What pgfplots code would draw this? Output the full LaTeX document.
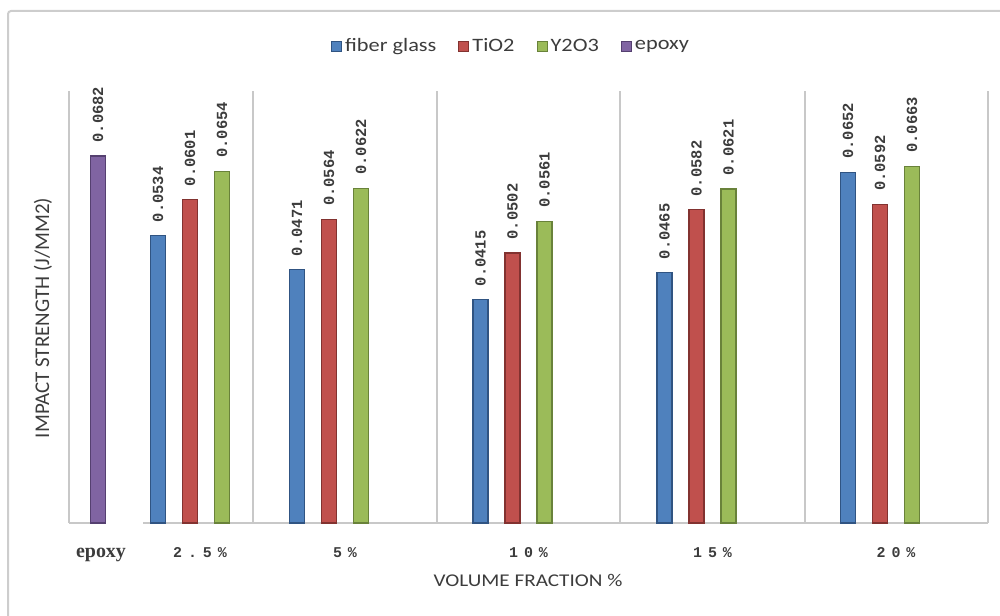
\documentclass[border=0pt]{standalone}
\usepackage{fontspec}
\usepackage{pgfplots}
\pgfplotsset{compat=1.18}

% fonts
\newfontfamily\calib{Carlito}[FakeStretch=1.18]
\newfontfamily\calibr{Carlito}
\newfontfamily\monof{Liberation Mono}
\newfontfamily\tickf{Liberation Mono}[LetterSpace=40]
\newfontfamily\serf{Liberation Serif}

% series colours (fill / edge)
\definecolor{blueF}{RGB}{79,129,189}
\definecolor{blueD}{RGB}{48,84,130}
\definecolor{redF}{RGB}{192,80,77}
\definecolor{redD}{RGB}{130,50,48}
\definecolor{greenF}{RGB}{155,187,89}
\definecolor{greenD}{RGB}{105,130,58}
\definecolor{purpF}{RGB}{128,100,162}
\definecolor{purpD}{RGB}{85,64,112}
\definecolor{sepgray}{RGB}{200,200,200}
\definecolor{framegray}{RGB}{205,205,205}
\definecolor{txtgray}{RGB}{60,60,60}

\begin{document}
\begin{tikzpicture}[x=1bp,y=1bp]
\path[use as bounding box] (0,0) rectangle (1000,616);
% chart frame
\draw[color=framegray, line width=2bp, rounded corners=3bp] (8,0) -- (8,605) -- (1000,605);
\begin{axis}[
  at={(69bp,93bp)}, anchor=south west,
  scale only axis, width=919bp, height=432bp,
  xmin=69, xmax=988, ymin=0, ymax=0.0803,
  clip=false,
  axis line style={draw=none},
  ytick=\empty,
  major tick length=0pt,
  xtick={101,200,345,528.5,712.5,896},
  xticklabels={{\serf\bfseries\fontsize{20}{24}\selectfont epoxy},2.5\%,5\%,10\%,15\%,20\%},
  xticklabel style={font=\tickf\bfseries\fontsize{15}{18}\selectfont, text=txtgray, anchor=base, inner sep=0pt, yshift=-35bp},
  extra x ticks={69,253,437,620,805,988},
  extra x tick labels={},
  extra x tick style={grid=major, major grid style={draw=sepgray, line width=1.3bp}},
  ylabel={IMPACT STRENGTH (J/MM2)},
  ylabel style={at={(axis description cs:-0.0283,0.4745)}, anchor=center, rotate=0, font=\calibr\fontsize{21}{24}\selectfont, text=txtgray},
  xlabel={VOLUME FRACTION \%},
  xlabel style={at={(axis description cs:0.4995,-0.134)}, anchor=center, font=\calib\fontsize{18}{22}\selectfont, text=txtgray},
  legend columns=4,
  legend style={at={(axis description cs:0.4815,1.104)}, anchor=center, draw=none, fill=none,
    font=\calib\fontsize{19}{22}\selectfont, text=txtgray,
    /tikz/every even column/.append style={column sep=19bp},
    nodes={inner xsep=3bp}},
  legend image code/.code={\draw[#1, line width=1bp] (0bp,-5bp) rectangle (10bp,5bp);},
  nodes near coords={\pgfmathprintnumber[fixed,fixed zerofill,precision=4,assume math mode=true]{\pgfplotspointmeta}},
  every node near coord/.append style={rotate=90, anchor=west, inner xsep=13bp, inner ysep=0pt,
    font=\monof\bfseries\fontsize{15.5}{18}\selectfont, text=txtgray},
]
% baseline
\draw[sepgray, line width=1.3bp] (axis cs:69,0) -- (axis cs:90,0);
\draw[sepgray, line width=1.3bp] (axis cs:143,0) -- (axis cs:988,0);

\addplot[ybar, bar width=15, bar shift=0pt, fill=blueF, draw=blueD, line width=1.2bp]
  coordinates {(158,0.0534) (297,0.0471) (480.5,0.0415) (664.5,0.0465) (848,0.0652)};
\addlegendentry{fiber glass}
\addplot[ybar, bar width=15, bar shift=0pt, fill=redF, draw=redD, line width=1.2bp]
  coordinates {(190,0.0601) (329,0.0564) (512.5,0.0502) (696.5,0.0582) (880,0.0592)};
\addlegendentry{TiO2}
\addplot[ybar, bar width=15, bar shift=0pt, fill=greenF, draw=greenD, line width=1.2bp]
  coordinates {(222,0.0654) (361,0.0622) (544.5,0.0561) (728.5,0.0621) (912,0.0663)};
\addlegendentry{Y2O3}
\addplot[ybar, bar width=15, bar shift=0pt, fill=purpF, draw=purpD, line width=1.2bp]
  coordinates {(98,0.0682)};
\addlegendentry{epoxy}
\end{axis}
\end{tikzpicture}
\end{document}
